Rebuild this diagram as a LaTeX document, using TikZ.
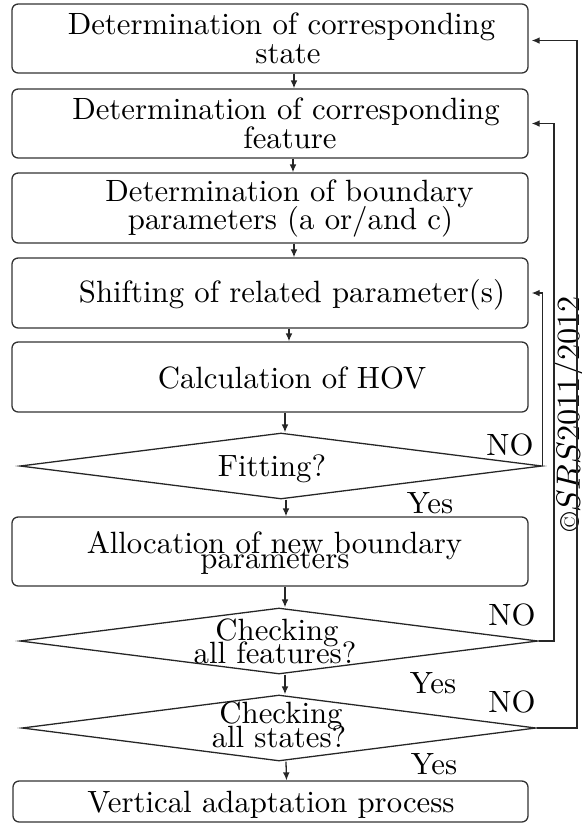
\documentclass[tikz,border=0pt]{standalone}
\usetikzlibrary{shapes.geometric,arrows.meta,fit,calc}
\tikzset{
  box/.style={draw=black!80, rounded corners=2pt, inner sep=0pt, line width=0.42pt},
  dia/.style={draw=black!85, diamond, inner sep=0pt, line width=0.42pt},
  txt/.style={inner sep=0pt, anchor=base, font=\fontsize{10}{12}\selectfont},
  arr/.style={draw=black!85, line width=0.42pt, -{Latex[length=2.6pt,width=2.2pt]}},
}
\begin{document}
\begin{tikzpicture}[x=0.325pt,y=-0.325pt]
\useasboundingbox (0,0) rectangle (582,824);
% boxes
\node[box, fit={(12,4) (528,73)}] (b1) {};
\node[box, fit={(12,89) (528,158)}] (b2) {};
\node[box, fit={(12,173) (528,243)}] (b3) {};
\node[box, fit={(12,258) (528,328)}] (b4) {};
\node[box, fit={(12,342) (528,412)}] (b5) {};
\node[box, fit={(12,517) (528,586)}] (b6) {};
\node[box, fit={(13,781) (528,822)}] (b7) {};
% decisions
\node[dia, minimum width=522*0.325pt, minimum height=66*0.325pt] (d1) at (281,466) {};
\node[dia, minimum width=518*0.325pt, minimum height=66*0.325pt] (d2) at (279,641) {};
\node[dia, minimum width=514*0.325pt, minimum height=66*0.325pt] (d3) at (279,728) {};
% texts
\node[txt] (t1a) at (281.5,34) {Determination of corresponding};
\node[txt] (t1b) at (288,63) {state};
\node[txt] (t2a) at (286,119) {Determination of corresponding};
\node[txt] (t2b) at (290,148) {feature};
\node[txt] (t3a) at (289.5,201) {Determination of boundary};
\node[txt] (t3b) at (290.5,229) {parameters (a or/and c)};
\node[txt] (t4) at (292,302) {Shifting of related parameter(s)};
\node[txt] (t5) at (292,388) {Calculation of HOV};
\node[txt] (t6) at (272,476) {Fitting?};
\node[txt] (t7a) at (274.5,553) {Allocation of new boundary};
\node[txt] (t7b) at (275,568) {parameters};
\node[txt] (t8a) at (277,640) {Checking};
\node[txt] (t8b) at (275,663) {all features?};
\node[txt] (t9a) at (281,723) {Checking};
\node[txt] (t9b) at (279,747) {all states?};
\node[txt] (t10) at (271,812) {Vertical adaptation process};
% labels
\node[txt] (no1) at (510,455) {NO};
\node[txt] (yes1) at (430,513) {Yes};
\node[txt] (no2) at (512,625) {NO};
\node[txt] (yes2) at (433,693) {Yes};
\node[txt] (no3) at (512,712) {NO};
\node[txt] (yes3) at (434,774) {Yes};
% copyright
\node[inner sep=0pt, anchor=base, rotate=90, font=\fontsize{10.5}{12.5}\selectfont] (cr) at (580,414) {{\fontsize{9}{11}\selectfont\textcopyright}$SRS$2011/2012};
% main flow
\draw[arr] ($(b1.south)+(24,0)$) -- ($(b2.north)+(24,0)$);
\draw[arr] ($(b2.south)+(23,0)$) -- ($(b3.north)+(23,0)$);
\draw[arr] ($(b3.south)+(24,0)$) -- ($(b4.north)+(24,0)$);
\draw[arr] ($(b4.south)+(19,0)$) -- ($(b5.north)+(19,0)$);
\draw[arr] ($(b5.south)+(15,0)$) -- ($(d1.north)+(4,0)$);
\draw[arr] ($(d1.south)+(5,0)$) -- ($(b6.north)+(16,0)$);
\draw[arr] ($(b6.south)+(15,0)$) -- ($(d2.north)+(6,0)$);
\draw[arr] ($(d2.south)+(6,0)$) -- ($(d3.north)+(6,0)$);
\draw[arr] ($(d3.south)+(7,0)$) -- ($(b7.north)+(16,0)$);
% feedback loops
\coordinate (r2) at (554,0);
\coordinate (r3) at (577,0);
\draw[arr, shorten >=1pt] (d1.east) |- (b4.east);
\draw[arr, shorten >=1pt] (d2.east) -- (d2.east -| r2) |- (b2.east);
\draw[arr, shorten >=1pt] (d3.east) -- (d3.east -| r3) |- ($(b1.east)+(0,2)$);
\end{tikzpicture}
\end{document}
